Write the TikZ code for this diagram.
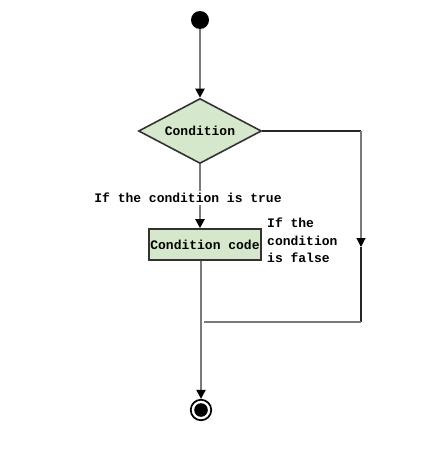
\documentclass[tikz,border=0pt]{standalone}
\usepackage{fontspec}
\setmonofont{Liberation Mono}
\usetikzlibrary{arrows.meta,shapes.geometric}
\definecolor{fillg}{HTML}{D6E8CB}
\definecolor{lineg}{HTML}{7A7A7A}
\begin{document}
\begin{tikzpicture}[x=1pt,y=-1pt,
  lbl/.style={font=\ttfamily\bfseries\fontsize{13}{14}\selectfont, inner sep=0pt},
  tip/.style={-{Triangle[length=9pt,width=9pt,color=black]}},
  flow/.style={draw=lineg, line width=2pt, tip},
  loop/.style={draw=black!85, line width=1.1pt},
  shp/.style={draw=black!80, line width=1.6pt, fill=fillg}]
\useasboundingbox (0,0) rectangle (430,455);
\node (start) [circle, fill=black, minimum size=18pt, inner sep=0pt] at (200,20) {};
\node (cond) [shp, diamond, minimum width=123pt, minimum height=65pt, inner sep=0pt, aspect=1.9, lbl] at (200,131) {Condition};
\node (code) [shp, rectangle, minimum width=112pt, minimum height=31pt, inner sep=0pt, lbl] at (205,244.5) {Condition code};
\node (end) [circle, draw=black, line width=1.7pt, fill=white, minimum size=20.5pt, inner sep=0pt,
  path picture={\fill[black] (path picture bounding box.center) circle (6.8pt);}] at (201,410) {};
\coordinate (r1) at (361,131);
\coordinate (r2) at (361,247);
\coordinate (r3) at (361,322);
\coordinate (j) at (204,322);
\coordinate (cs) at (201,261);
\draw[flow] (start) -- (cond.north);
\draw[flow] (cond.south) -- (code.north -| cond.south);
\draw[flow] (cs) -- (end.north);
\draw[loop] (cond.east) -- (r1);
\draw[loop, draw=lineg, -{Triangle[length=9pt,width=9pt,color=black]}] (r1) -- (r2);
\draw[loop] (r2) -- (r3);
\draw[draw=lineg, line width=1.8pt] (r3) -- (j);
\node (truelbl) [lbl, fill=white, inner ysep=2pt] at (188,198) {If the condition is true};
\node (falselbl) [lbl, align=left, anchor=west] at (267,240.5) {If the\\[3.5pt]condition\\[3.5pt]is false};
\end{tikzpicture}
\end{document}
